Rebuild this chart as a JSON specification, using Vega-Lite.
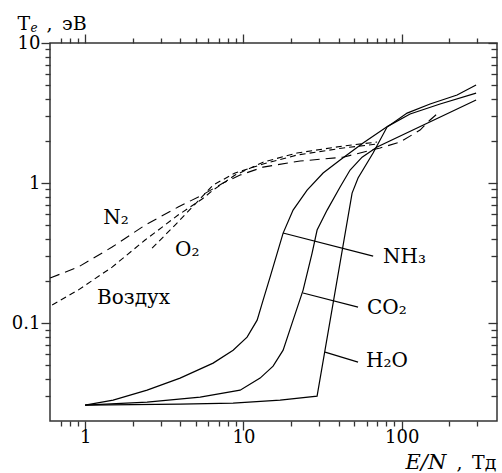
{
  "$schema": "https://vega.github.io/schema/vega-lite/v6.json",
  "width": 447,
  "height": 378,
  "autosize": "none",
  "padding": {"left": 50, "top": 43, "right": 5, "bottom": 52},
  "background": "white",
  "config": {
    "view": {"stroke": "#333", "strokeWidth": 1.5},
    "axis": {"labelFont": "DejaVu Serif", "titleFont": "DejaVu Serif", "titleFontWeight": "normal", "labelColor": "black", "titleColor": "black", "grid": false, "domain": false, "ticks": true, "tickColor": "#333", "tickWidth": 1.3}
  },
  "datasets": {
    "solid": [
      {"s": "NH3", "x": 1, "y": 0.026}, {"s": "NH3", "x": 1.503, "y": 0.0282}, {"s": "NH3", "x": 2.464, "y": 0.0332}, {"s": "NH3", "x": 3.98, "y": 0.0405}, {"s": "NH3", "x": 6.437, "y": 0.0518}, {"s": "NH3", "x": 8.61, "y": 0.0641}, {"s": "NH3", "x": 10.55, "y": 0.0794}, {"s": "NH3", "x": 12.21, "y": 0.105}, {"s": "NH3", "x": 13.32, "y": 0.146}, {"s": "NH3", "x": 14.74, "y": 0.213}, {"s": "NH3", "x": 17.82, "y": 0.439}, {"s": "NH3", "x": 20.6, "y": 0.641}, {"s": "NH3", "x": 25.26, "y": 0.891}, {"s": "NH3", "x": 31.88, "y": 1.18}, {"s": "NH3", "x": 40.82, "y": 1.46}, {"s": "NH3", "x": 57.04, "y": 1.93}, {"s": "NH3", "x": 82.0, "y": 2.55}, {"s": "NH3", "x": 113.0, "y": 3.11}, {"s": "NH3", "x": 174.8, "y": 3.67}, {"s": "NH3", "x": 295.1, "y": 4.39},
      {"s": "CO2", "x": 1, "y": 0.026}, {"s": "CO2", "x": 2.464, "y": 0.0273}, {"s": "CO2", "x": 5.33, "y": 0.0296}, {"s": "CO2", "x": 9.53, "y": 0.0332}, {"s": "CO2", "x": 12.75, "y": 0.0405}, {"s": "CO2", "x": 15.4, "y": 0.0493}, {"s": "CO2", "x": 17.82, "y": 0.0641}, {"s": "CO2", "x": 20.6, "y": 0.105}, {"s": "CO2", "x": 23.83, "y": 0.172}, {"s": "CO2", "x": 27.16, "y": 0.316}, {"s": "CO2", "x": 29.21, "y": 0.4616}, {"s": "CO2", "x": 33.8, "y": 0.641}, {"s": "CO2", "x": 40.82, "y": 0.936}, {"s": "CO2", "x": 47.2, "y": 1.238}, {"s": "CO2", "x": 56.2, "y": 1.53}, {"s": "CO2", "x": 69.93, "y": 1.807}, {"s": "CO2", "x": 295.1, "y": 3.92},
      {"s": "H2O", "x": 1, "y": 0.026}, {"s": "H2O", "x": 3.98, "y": 0.0264}, {"s": "H2O", "x": 8.61, "y": 0.0268}, {"s": "H2O", "x": 17.06, "y": 0.0282}, {"s": "H2O", "x": 29.2, "y": 0.0301}, {"s": "H2O", "x": 48.6, "y": 0.848}, {"s": "H2O", "x": 53.0, "y": 1.086}, {"s": "H2O", "x": 65.96, "y": 1.64}, {"s": "H2O", "x": 80.8, "y": 2.51}, {"s": "H2O", "x": 108.2, "y": 3.16}, {"s": "H2O", "x": 151.1, "y": 3.67}, {"s": "H2O", "x": 223.9, "y": 4.25}, {"s": "H2O", "x": 295.1, "y": 5.01}
    ],
    "dashed": [
      {"s": "N2", "x": 0.601, "y": 0.21}, {"s": "N2", "x": 0.903, "y": 0.251}, {"s": "N2", "x": 1.481, "y": 0.349}, {"s": "N2", "x": 2.393, "y": 0.501}, {"s": "N2", "x": 3.869, "y": 0.674}, {"s": "N2", "x": 5.484, "y": 0.821}, {"s": "N2", "x": 7.44, "y": 1.0}, {"s": "N2", "x": 9.53, "y": 1.14}, {"s": "N2", "x": 13.32, "y": 1.3}, {"s": "N2", "x": 22.81, "y": 1.436}, {"s": "N2", "x": 42.64, "y": 1.53}, {"s": "N2", "x": 73.04, "y": 1.78}, {"s": "N2", "x": 97.7, "y": 1.963}, {"s": "N2", "x": 130.7, "y": 2.39}, {"s": "N2", "x": 151.1, "y": 2.82}, {"s": "N2", "x": 169.8, "y": 3.16},
      {"s": "Air", "x": 0.619, "y": 0.1345}, {"s": "Air", "x": 0.903, "y": 0.172}, {"s": "Air", "x": 1.481, "y": 0.251}, {"s": "Air", "x": 2.393, "y": 0.392}, {"s": "Air", "x": 3.869, "y": 0.591}, {"s": "Air", "x": 5.484, "y": 0.769}, {"s": "Air", "x": 6.437, "y": 0.891}, {"s": "Air", "x": 8.86, "y": 1.14}, {"s": "Air", "x": 13.32, "y": 1.41}, {"s": "Air", "x": 21.84, "y": 1.64}, {"s": "Air", "x": 42.64, "y": 1.838}, {"s": "Air", "x": 69.93, "y": 1.963},
      {"s": "O2", "x": 2.65, "y": 0.343}, {"s": "O2", "x": 3.7, "y": 0.501}, {"s": "O2", "x": 5.17, "y": 0.744}, {"s": "O2", "x": 6.437, "y": 0.968}, {"s": "O2", "x": 8.86, "y": 1.18}, {"s": "O2", "x": 13.32, "y": 1.367}, {"s": "O2", "x": 21.84, "y": 1.585}, {"s": "O2", "x": 42.64, "y": 1.78}, {"s": "O2", "x": 69.93, "y": 1.9}
    ],
    "leaders": [
      {"x": 17.8, "y": 0.44, "x2": 66.0, "y2": 0.301},
      {"x": 23.8, "y": 0.164, "x2": 53.0, "y2": 0.13},
      {"x": 32.8, "y": 0.0621, "x2": 53.0, "y2": 0.0527}
    ],
    "labels": [
      {"t": "N₂", "x": 1.3, "y": 0.562},
      {"t": "O₂", "x": 3.7, "y": 0.332},
      {"t": "Воздух", "x": 1.19, "y": 0.151},
      {"t": "NH₃", "x": 76.3, "y": 0.296},
      {"t": "CO₂", "x": 60.4, "y": 0.128},
      {"t": "H₂O", "x": 59.6, "y": 0.0535}
    ]
  },
  "layer": [
    {
      "data": {"name": "solid"},
      "mark": {"type": "line", "color": "black", "strokeWidth": 1.2},
      "encoding": {
        "x": {"field": "x", "type": "quantitative", "scale": {"type": "log", "domain": [0.6, 400], "nice": false},
          "axis": {"orient": "bottom", "values": [1, 10, 100], "tickSize": 9, "labelPadding": -2, "labelFontSize": 18, "labelFlush": false, "format": "~g",
            "title": "E/N", "titleFontStyle": "italic", "titleFontSize": 21, "titleAngle": 0, "titleX": 355, "titleY": 47, "titleAlign": "left", "titleBaseline": "alphabetic"}},
        "y": {"field": "y", "type": "quantitative", "scale": {"type": "log", "domain": [0.02, 10], "nice": false},
          "axis": {"orient": "left", "values": [0.1, 1, 10], "tickSize": 9, "labelPadding": 1, "labelFontSize": 18, "labelFlush": false, "format": "~g",
            "title": "T", "titleFontSize": 19, "titleAngle": 0, "titleX": -33, "titleY": -14, "titleAlign": "left", "titleBaseline": "alphabetic"}},
        "detail": {"field": "s"}
      }
    },
    {
      "data": {"name": "dashed"},
      "mark": {"type": "line", "color": "black", "strokeWidth": 1.1},
      "encoding": {
        "x": {"field": "x", "type": "quantitative", "scale": {"type": "log", "domain": [0.6, 400], "nice": false},
          "axis": {"orient": "bottom", "values": [0.7, 0.8, 0.9, 2, 3, 4, 5, 6, 7, 8, 9, 20, 30, 40, 50, 60, 70, 80, 90, 200, 300], "labels": false, "tickSize": 5,
            "title": ",\u2002Тд", "titleFontSize": 19, "titleAngle": 0, "titleX": 406, "titleY": 47, "titleAlign": "left", "titleBaseline": "alphabetic"}},
        "y": {"field": "y", "type": "quantitative", "scale": {"type": "log", "domain": [0.02, 10], "nice": false},
          "axis": {"orient": "left", "values": [0.03, 0.04, 0.05, 0.06, 0.07, 0.08, 0.09, 0.2, 0.3, 0.4, 0.5, 0.6, 0.7, 0.8, 0.9, 2, 3, 4, 5, 6, 7, 8, 9], "labels": false, "tickSize": 5,
            "title": "e", "titleFontStyle": "italic", "titleFontSize": 12, "titleAngle": 0, "titleX": -20, "titleY": -12, "titleAlign": "left", "titleBaseline": "alphabetic"}},
        "detail": {"field": "s"},
        "strokeDash": {"field": "s", "type": "nominal", "legend": null,
          "scale": {"domain": ["N2", "Air", "O2"], "range": [[10, 6], [6, 4], [6, 4]]}}
      }
    },
    {
      "data": {"name": "leaders"},
      "mark": {"type": "rule", "color": "black", "strokeWidth": 1.2},
      "encoding": {
        "x": {"field": "x", "type": "quantitative", "scale": {"type": "log", "domain": [0.6, 400], "nice": false},
          "axis": {"orient": "top", "values": [1, 10, 100], "labels": false, "tickSize": 9, "title": null}},
        "x2": {"field": "x2"},
        "y": {"field": "y", "type": "quantitative", "scale": {"type": "log", "domain": [0.02, 10], "nice": false},
          "axis": {"orient": "right", "values": [0.1, 1, 10], "labels": false, "tickSize": -9,
            "title": ",\u2002эВ", "titleFontSize": 19, "titleAngle": 0, "titleX": -451, "titleY": -14, "titleAlign": "left", "titleBaseline": "alphabetic"}},
        "y2": {"field": "y2"}
      }
    },
    {
      "data": {"name": "labels"},
      "mark": {"type": "text", "color": "black", "font": "DejaVu Serif", "fontSize": 20, "align": "left", "baseline": "middle"},
      "encoding": {
        "x": {"field": "x", "type": "quantitative", "scale": {"type": "log", "domain": [0.6, 400], "nice": false},
          "axis": {"orient": "top", "values": [0.7, 0.8, 0.9, 2, 3, 4, 5, 6, 7, 8, 9, 20, 30, 40, 50, 60, 70, 80, 90, 200, 300], "labels": false, "tickSize": 5, "title": null}},
        "y": {"field": "y", "type": "quantitative", "scale": {"type": "log", "domain": [0.02, 10], "nice": false},
          "axis": {"orient": "right", "values": [0.03, 0.04, 0.05, 0.06, 0.07, 0.08, 0.09, 0.2, 0.3, 0.4, 0.5, 0.6, 0.7, 0.8, 0.9, 2, 3, 4, 5, 6, 7, 8, 9], "labels": false, "tickSize": -6, "title": null}},
        "text": {"field": "t"}
      }
    }
  ],
  "resolve": {"scale": {"x": "shared", "y": "shared"}, "axis": {"x": "independent", "y": "independent"}}
}
